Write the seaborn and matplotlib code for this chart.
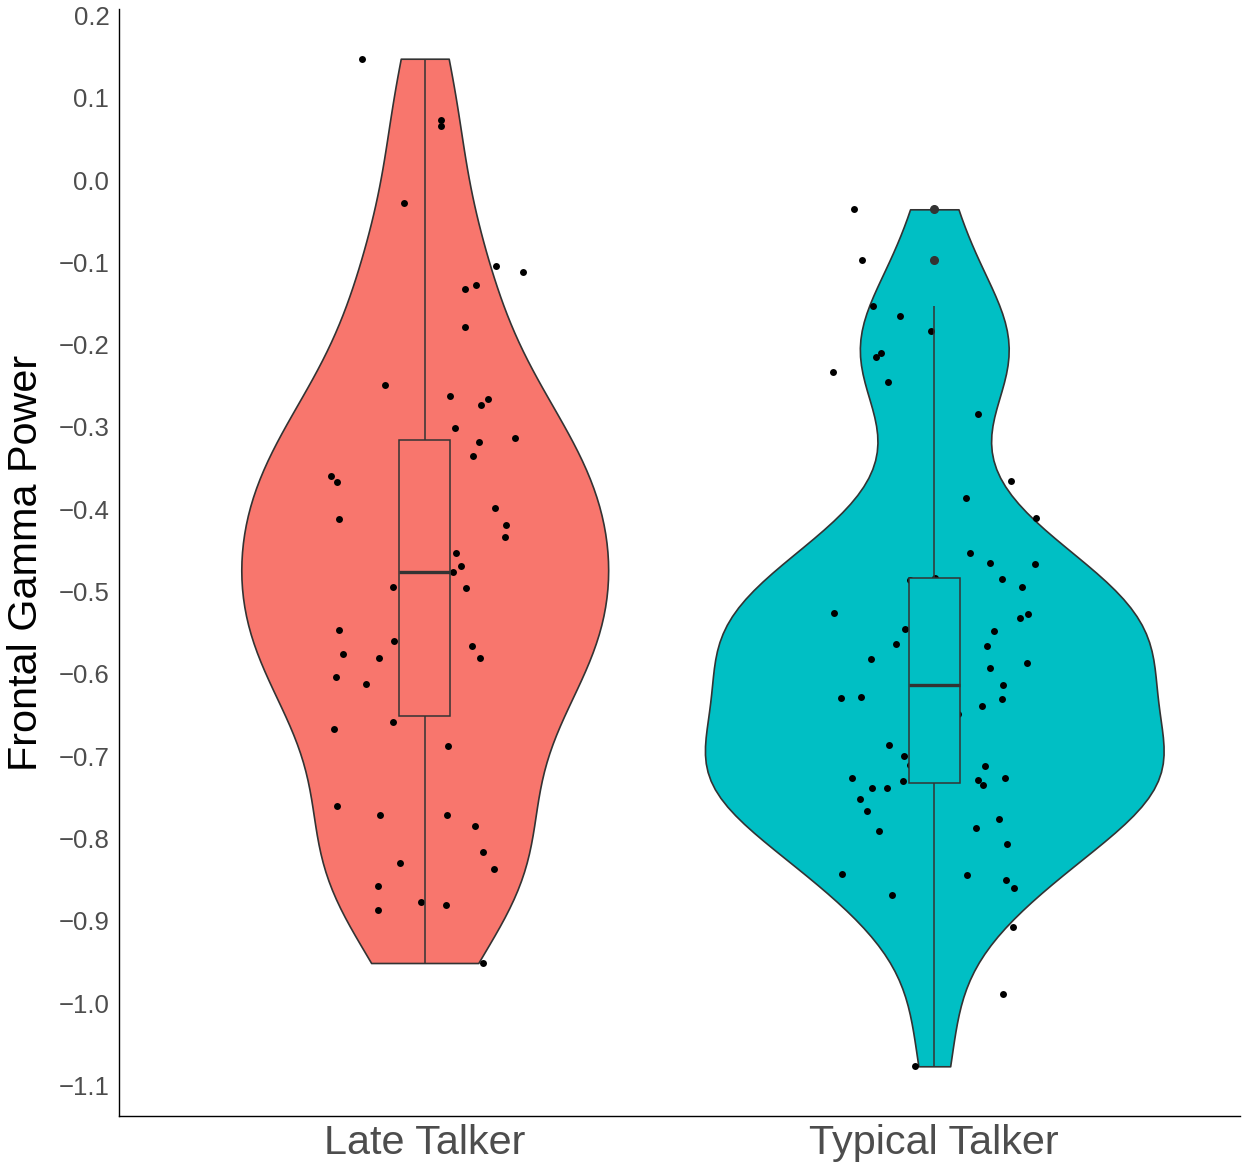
import numpy as np
import pandas as pd
import matplotlib
matplotlib.use("Agg")
import matplotlib.pyplot as plt
import seaborn as sns

# ---------------- data ----------------
groups = ["Late Talker", "Typical Talker"]
group_colors = ["#F8766D", "#00BFC4"]

late_values = [
    0.1474, 0.0729, 0.0656, -0.0276, -0.1045, -0.1118, -0.1279, -0.1328,
    -0.1782, -0.2487, -0.2625, -0.2657, -0.2738, -0.3010, -0.3180, -0.3135,
    -0.3350, -0.3597, -0.3666, -0.4123, -0.3982, -0.4196, -0.4341, -0.4407,
    -0.4536, -0.4690, -0.4759, -0.4942, -0.4961, -0.5367, -0.5471, -0.5601,
    -0.5756, -0.5808, -0.5662, -0.5804, -0.6035, -0.6124, -0.6586, -0.6667,
    -0.6881, -0.7606, -0.7719, -0.7716, -0.7853, -0.8169, -0.8372, -0.8299,
    -0.8578, -0.8769, -0.8806, -0.8874, -0.9514,
    # points hidden behind the box
    -0.34, -0.39, -0.43, -0.52, -0.60, -0.644,
]
late_jitter = [
    -0.123, 0.032, 0.031, -0.041, 0.139, 0.192, 0.101, 0.080,
    0.080, -0.077, 0.050, 0.125, 0.111, 0.060, 0.107, 0.177,
    0.094, -0.184, -0.173, -0.168, 0.138, 0.160, 0.157, -0.045,
    0.062, 0.072, 0.056, -0.063, 0.081, -0.045, -0.169, -0.060,
    -0.160, -0.089, 0.092, 0.109, -0.174, -0.116, -0.063, -0.179,
    0.045, -0.173, -0.088, 0.043, 0.099, 0.114, 0.135, -0.048,
    -0.092, -0.008, 0.041, -0.091, 0.115,
    -0.03, 0.02, 0.035, -0.01, 0.03, -0.035,
]

typical_values = [
    -0.0356, -0.0972, -0.1527, -0.1652, -0.1835, -0.2102, -0.2147, -0.2333,
    -0.2458, -0.2840, -0.3661, -0.3864, -0.4111, -0.4536, -0.4650, -0.4666,
    -0.4848, -0.4949, -0.4832, -0.4860, -0.5265, -0.5270, -0.5326, -0.5452,
    -0.5480, -0.5634, -0.5659, -0.5820, -0.5873, -0.5926, -0.6140, -0.6294,
    -0.6278, -0.6391, -0.6306, -0.6489, -0.6869, -0.6995, -0.7108, -0.7124,
    -0.7266, -0.7306, -0.7294, -0.7347, -0.7270, -0.7388, -0.7391, -0.7518,
    -0.7663, -0.7906, -0.7768, -0.7874, -0.8072, -0.8429, -0.8441, -0.8502,
    -0.8606, -0.8691, -0.9080, -0.9894, -1.0769,
    # points hidden behind the box
    -0.52, -0.56, -0.59, -0.66, -0.69, -0.72,
]
typical_jitter = [
    -0.157, -0.141, -0.120, -0.068, -0.006, -0.104, -0.115, -0.198,
    -0.090, 0.086, 0.151, 0.062, 0.199, 0.070, 0.110, 0.198,
    0.133, 0.173, 0.001, -0.047, -0.197, 0.184, 0.168, -0.058,
    0.117, -0.075, 0.103, -0.124, 0.182, 0.109, 0.135, -0.184,
    -0.143, 0.093, 0.133, 0.047, -0.089, -0.059, -0.047, 0.100,
    -0.162, -0.061, 0.086, 0.096, 0.139, -0.122, -0.093, -0.145,
    -0.132, -0.108, 0.127, 0.081, 0.142, -0.182, 0.064, 0.140,
    0.157, -0.083, 0.154, 0.135, -0.037,
    0.02, -0.03, 0.035, -0.02, 0.03, -0.035,
]

ytick_values = [0.2, 0.1, 0.0, -0.1, -0.2, -0.3, -0.4, -0.5, -0.6, -0.7,
                -0.8, -0.9, -1.0, -1.1]
ytick_labels = ["0.2", "0.1", "0.0", "\u22120.1", "\u22120.2", "\u22120.3",
                "\u22120.4", "\u22120.5", "\u22120.6", "\u22120.7", "\u22120.8",
                "\u22120.9", "\u22121.0", "\u22121.1"]
y_label = "Frontal Gamma Power"

# ---------------- build frame ----------------
df = pd.DataFrame({
    "group": [groups[0]] * len(late_values) + [groups[1]] * len(typical_values),
    "value": late_values + typical_values,
    "jit": late_jitter + typical_jitter,
})
df["pos"] = df["group"].map({g: i for i, g in enumerate(groups)}) + df["jit"]

# ---------------- style ----------------
sns.set_theme(style="white")
plt.rcParams["font.family"] = ["Liberation Sans", "DejaVu Sans"]

fig = plt.figure(figsize=(12.43, 11.63), dpi=100)
ax = fig.add_axes([119 / 1243, (1163 - 1116) / 1163, 1121 / 1243, 1107 / 1163])

edge = "#333333"
violin_widths = [0.72, 0.9]

for i, g in enumerate(groups):
    sub = df[df["group"] == g]
    v = sub["value"].to_numpy()
    sd = v.std(ddof=1)
    iqr = np.subtract(*np.percentile(v, [75, 25]))
    bw = 0.9 * min(sd, iqr / 1.34) * len(v) ** (-0.2)   # R's bw.nrd0
    sns.violinplot(data=sub, x="group", y="value", order=groups,
                   color=group_colors[i], saturation=1, inner=None, cut=0,
                   width=violin_widths[i], bw_method=bw / sd,
                   linecolor=edge, linewidth=1.2, ax=ax)

ax.scatter(df["pos"], df["value"], s=25, color="black", linewidths=0, zorder=2)

sns.boxplot(data=df, x="group", y="value", order=groups, hue="group",
            hue_order=groups, palette=group_colors, saturation=1, dodge=False,
            legend=False, width=0.1, showcaps=False, linecolor=edge,
            linewidth=1.1, fliersize=5.5,
            flierprops=dict(marker="o", markerfacecolor=edge,
                            markeredgecolor=edge, zorder=4),
            boxprops=dict(zorder=3), whiskerprops=dict(zorder=3),
            medianprops=dict(linewidth=2.4, color=edge, zorder=4),
            ax=ax)

# ---------------- axes ----------------
ax.set_xlim(-0.6, 1.6)
ax.set_ylim(-1.1373, 0.2078)
ax.set_yticks(ytick_values)
ax.set_yticklabels(ytick_labels)
ax.set_xticks([0, 1])
ax.set_xticklabels(groups)
ax.tick_params(axis="y", length=0, pad=7, labelsize=18.5, labelcolor="#4D4D4D")
ax.tick_params(axis="x", length=0, pad=6, labelsize=29.8, labelcolor="#4D4D4D")
ax.set_xlabel("")
ax.set_ylabel(y_label, fontsize=29.8, color="black")
ax.yaxis.set_label_coords(-0.066, 0.5)

for s in ["top", "right"]:
    ax.spines[s].set_visible(False)
for s in ["left", "bottom"]:
    ax.spines[s].set_color("black")
    ax.spines[s].set_linewidth(1.0)
ax.grid(False)

fig.savefig("out.png", dpi=100)
